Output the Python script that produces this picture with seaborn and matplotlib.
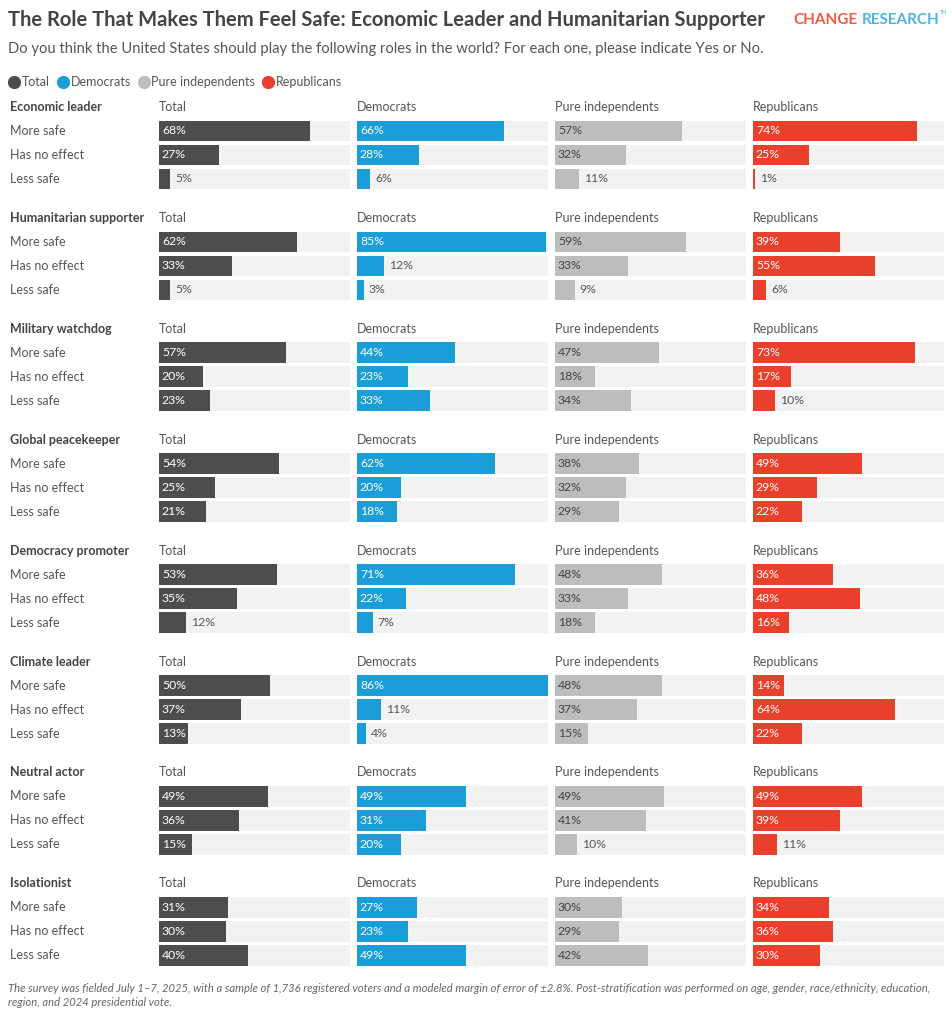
import numpy as np
import pandas as pd
import matplotlib
matplotlib.use("Agg")
import matplotlib.pyplot as plt
from matplotlib.lines import Line2D
import seaborn as sns

# data
roles = ["Economic leader", "Humanitarian supporter", "Military watchdog", "Global peacekeeper",
         "Democracy promoter", "Climate leader", "Neutral actor", "Isolationist"]
answers = ["More safe", "Has no effect", "Less safe"]
groups = ["Total", "Democrats", "Pure independents", "Republicans"]

total = [[68, 27, 5], [62, 33, 5], [57, 20, 23], [54, 25, 21],
         [53, 35, 12], [50, 37, 13], [49, 36, 15], [31, 30, 40]]
democrats = [[66, 28, 6], [85, 12, 3], [44, 23, 33], [62, 20, 18],
             [71, 22, 7], [86, 11, 4], [49, 31, 20], [27, 23, 49]]
independents = [[57, 32, 11], [59, 33, 9], [47, 18, 34], [38, 32, 29],
                [48, 33, 18], [48, 37, 15], [49, 41, 10], [30, 29, 42]]
republicans = [[74, 25, 1], [39, 55, 6], [73, 17, 10], [49, 29, 22],
               [36, 48, 16], [14, 64, 22], [49, 39, 11], [34, 36, 30]]

series = [total, democrats, independents, republicans]
colors = ["#4d4d4d", "#1b9dd8", "#bdbdbd", "#e8402b"]
label_colors = ["white", "white", "#444444", "white"]
track_color = "#f2f2f2"
xmax = max(max(max(r) for r in s) for s in series)

sns.set_theme(style="white")
plt.rcParams["font.family"] = ["Lato", "DejaVu Sans"]

W, H = 953, 1024
fig = plt.figure(figsize=(W / 100, H / 100), dpi=100)
fig.patch.set_facecolor("white")

def fx(px):
    return px / W

def fy(py):
    return 1 - py / H

# title, subtitle, brand
fig.text(fx(8), fy(20), "The Role That Makes Them Feel Safe: Economic Leader and Humanitarian Supporter",
         fontsize=14.5, fontweight="bold", color="#444444", va="center", ha="left")
fig.text(fx(793), fy(20), "CHANGE", fontsize=11, fontweight="bold", color="#f05a40", va="center", ha="left")
fig.text(fx(862), fy(20), "RESEARCH", fontsize=11, fontweight="bold", color="#4db3e2", va="center", ha="left")
fig.text(fx(940), fy(12), "TM", fontsize=3.5, color="#4db3e2", va="center", ha="left")
fig.text(fx(8), fy(49), "Do you think the United States should play the following roles in the world? For each one, please indicate Yes or No.",
         fontsize=10.6, color="#555555", va="center", ha="left")

handles = [Line2D([], [], marker="o", linestyle="", markersize=8.5, color=c) for c in colors]
fig.legend(handles, groups, loc="center left", bbox_to_anchor=(fx(0), fy(82)), ncol=4,
           frameon=False, fontsize=9, handlelength=0.9, handletextpad=0.15, columnspacing=0.6,
           labelcolor="#555555", borderpad=0.2)

col_left = [159, 357, 555, 753]
col_width = 191
group_top = 107
group_step = 110.9
row_h = 24

for i, role in enumerate(roles):
    ty = group_top + i * group_step
    fig.text(fx(10), fy(ty), role, fontsize=9, fontweight="bold", color="#444444", va="center", ha="left")
    for r, ans in enumerate(answers):
        fig.text(fx(10), fy(ty + 24 + r * row_h), ans, fontsize=9, color="#555555", va="center", ha="left")
    for j, grp in enumerate(groups):
        left = col_left[j]
        fig.text(fx(left), fy(ty), grp, fontsize=9, color="#555555", va="center", ha="left")
        ax = fig.add_axes([fx(left), fy(ty + 12 + 3 * row_h), fx(col_width), 3 * row_h / H])
        vals = series[j][i]
        df = pd.DataFrame({"answer": answers, "value": vals})
        sns.barplot(x=[xmax] * 3, y=answers, color=track_color, width=0.86, ax=ax,
                    saturation=1, edgecolor="none")
        sns.barplot(data=df, x="value", y="answer", color=colors[j], width=0.86, ax=ax,
                    saturation=1, edgecolor="none")
        for r, v in enumerate(vals):
            if v >= 13:
                ax.text(1.3, r, f"{v}%", fontsize=8.8, color=label_colors[j], va="center", ha="left")
            else:
                ax.text(v + 2.2, r, f"{v}%", fontsize=8.8, color="#555555", va="center", ha="left")
        ax.set_xlim(0, xmax)
        ax.set_ylim(2.5, -0.5)
        ax.axis("off")

fig.text(fx(8), fy(988),
         "The survey was fielded July 1\u20137, 2025, with a sample of 1,736 registered voters and a modeled margin of error of \u00b12.8%. Post-stratification was performed on age, gender, race/ethnicity, education,",
         fontsize=8.1, style="italic", color="#666666", va="center", ha="left")
fig.text(fx(8), fy(1003), "region, and 2024 presidential vote.",
         fontsize=8.1, style="italic", color="#666666", va="center", ha="left")

fig.savefig("out.png", dpi=100, facecolor="white")
